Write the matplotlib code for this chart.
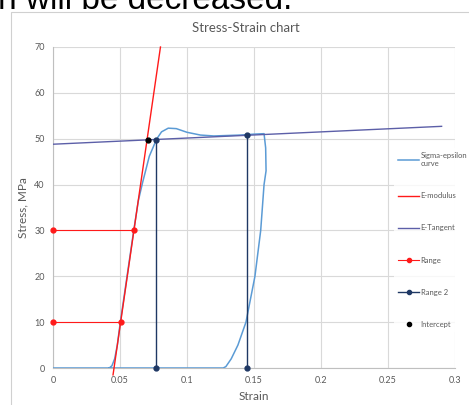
import matplotlib.pyplot as plt
from matplotlib.lines import Line2D
from matplotlib.patches import Rectangle

# measured sigma-epsilon curve (loading + unloading)
curve_strain = [0.0, 0.042, 0.044, 0.046, 0.048, 0.050, 0.055, 0.060, 0.0637, 0.0669,
                0.0719, 0.0773, 0.081, 0.086, 0.092, 0.100, 0.110, 0.120, 0.130, 0.140,
                0.150, 0.1575, 0.1587, 0.159, 0.1575, 0.155, 0.1507, 0.144, 0.138,
                0.133, 0.129, 0.127, 0.042]
curve_stress = [0.0, 0.0, 0.5, 2.0, 5.0, 9.5, 19.5, 29.5, 36.5, 40.5,
                46.2, 49.9, 51.5, 52.3, 52.2, 51.4, 50.8, 50.6, 50.7, 50.8,
                51.0, 51.1, 48.0, 43.0, 40.0, 30.0, 20.0, 10.0, 5.0,
                2.0, 0.3, 0.0, 0.0]

# E-modulus line
emod_strain = [0.0448, 0.0802]
emod_stress = [-1.5, 70.0]

# E-tangent line
etan_strain = [0.0, 0.29]
etan_stress = [48.8, 52.7]

# Range points (stress 10 and 30)
range_a_strain = [0.0, 0.0505]
range_a_stress = [10.0, 10.0]
range_b_strain = [0.0, 0.0604]
range_b_stress = [30.0, 30.0]

# Range 2 verticals
range2_a_strain = [0.0769, 0.0769]
range2_a_stress = [0.0, 49.8]
range2_b_strain = [0.145, 0.145]
range2_b_stress = [0.0, 50.75]

# intercept of E-modulus and E-tangent
icpt_strain = [0.0706]
icpt_stress = [49.75]

x_ticks = [0, 0.05, 0.1, 0.15, 0.2, 0.25, 0.3]
x_tick_labels = ['0', '0.05', '0.1', '0.15', '0.2', '0.25', '0.3']
y_ticks = [0, 10, 20, 30, 40, 50, 60, 70]

C_CURVE = '#5b9bd5'
C_EMOD = '#ff1a1a'
C_ETAN = '#5c5fa8'
C_RANGE = '#ff1a1a'
C_RANGE2 = '#1f3864'
C_TEXT = '#595959'
C_GRID = '#d9d9d9'

plt.rcParams['font.family'] = ['Lato', 'DejaVu Sans']

fig = plt.figure(figsize=(4.69, 4.05), dpi=100)
W, H = 469, 405

# chart frame
fig.patches.append(Rectangle((11 / W, -0.05), 1.0, (H - 12) / H + 0.05,
                             transform=fig.transFigure, facecolor='white',
                             edgecolor='#d0d0d0', linewidth=0.8, zorder=-1))

# cut-off heading text above the chart
fig.text(-0.005, (H - 9) / H, 'n will be decreased.', fontsize=24,
         family='Liberation Sans', color='black', ha='left', va='baseline')

ax = fig.add_axes([53 / W, 37 / H, (455 - 53) / W, (368 - 47) / H])
ax.set_zorder(2)
ax.set_facecolor('none')

ax.plot(curve_strain, curve_stress, color=C_CURVE, lw=1.1, zorder=3)
ax.plot(emod_strain, emod_stress, color=C_EMOD, lw=1.0, zorder=4, clip_on=False)
ax.plot(etan_strain, etan_stress, color=C_ETAN, lw=1.0, zorder=4)
ax.plot(range_a_strain, range_a_stress, color=C_RANGE, lw=0.8, marker='o', ms=3.5, zorder=5, clip_on=False)
ax.plot(range_b_strain, range_b_stress, color=C_RANGE, lw=0.8, marker='o', ms=3.5, zorder=5, clip_on=False)
ax.plot(range2_a_strain, range2_a_stress, color=C_RANGE2, lw=1.0, marker='o', ms=3.5, zorder=5, clip_on=False)
ax.plot(range2_b_strain, range2_b_stress, color=C_RANGE2, lw=1.0, marker='o', ms=3.5, zorder=5, clip_on=False)
ax.plot(icpt_strain, icpt_stress, ls='none', color='black', marker='o', ms=3.5, zorder=6)

ax.set_xlim(0, 0.3)
ax.set_ylim(0, 70)
ax.set_xticks(x_ticks)
ax.set_xticklabels(x_tick_labels)
ax.set_yticks(y_ticks)
ax.tick_params(length=0, labelsize=6.5, colors=C_TEXT, pad=6)
ax.grid(True, color=C_GRID, lw=0.8, zorder=0)
ax.set_axisbelow(True)
for side in ['top', 'right']:
    ax.spines[side].set_visible(False)
for side in ['left', 'bottom']:
    ax.spines[side].set_color('#bfbfbf')
    ax.spines[side].set_linewidth(0.8)

ax.set_xlabel('Strain', fontsize=8.5, color=C_TEXT, labelpad=4)
ax.set_ylabel('Stress, MPa', fontsize=8.5, color=C_TEXT, labelpad=4)
fig.text(246 / W, (H - 28) / H, 'Stress-Strain chart', fontsize=9.5,
         color=C_TEXT, ha='center', va='center')

handles = [
    Line2D([], [], color=C_CURVE, lw=1.1),
    Line2D([], [], color=C_EMOD, lw=1.0),
    Line2D([], [], color=C_ETAN, lw=1.0),
    Line2D([], [], color=C_RANGE, lw=0.8, marker='o', ms=3),
    Line2D([], [], color=C_RANGE2, lw=1.0, marker='o', ms=3),
    Line2D([], [], ls='none', color='black', marker='o', ms=3),
]
labels = ['Sigma-epsilon\ncurve', 'E-modulus', 'E-Tangent', 'Range', 'Range 2', 'Intercept']
leg = fig.legend(handles, labels, loc='upper left',
                 bbox_to_anchor=(394 / W, (H - 148) / H),
                 fontsize=5.5, handlelength=2.8, handletextpad=0.2,
                 labelspacing=3.3, frameon=True, fancybox=False,
                 borderpad=0.5, borderaxespad=0)
leg.get_frame().set_facecolor('white')
leg.get_frame().set_edgecolor('none')
leg.set_zorder(10)
for t in leg.get_texts():
    t.set_color(C_TEXT)

fig.savefig('out.png', dpi=100)
